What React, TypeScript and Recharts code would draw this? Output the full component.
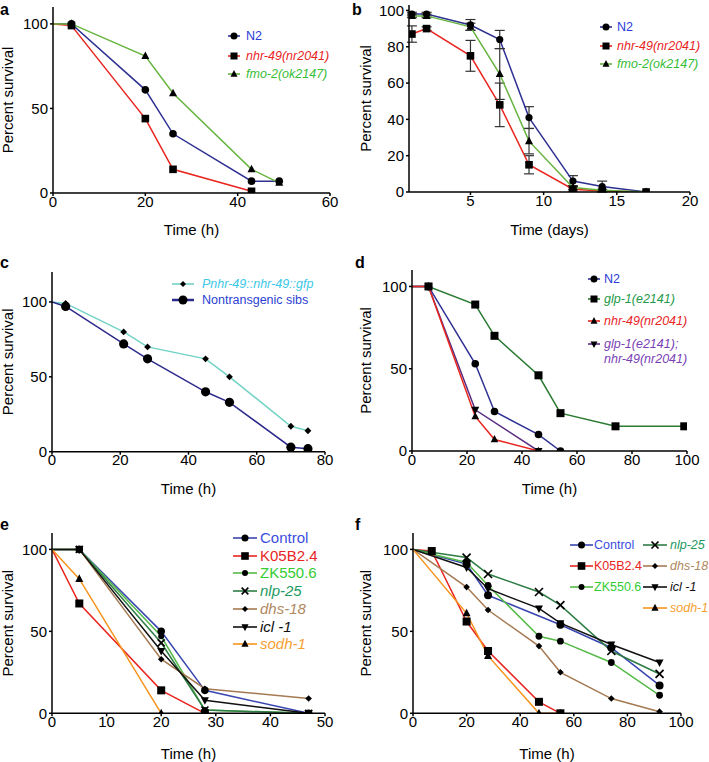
import React from "react";
import { LineChart, Line, XAxis, YAxis, ErrorBar } from "recharts";

const FONT = '"Liberation Sans", Arial, Helvetica, sans-serif';

/* ── data: panel a ─────────────────────────────── */
const aTimeN2 = [0, 4, 20, 26, 43, 49];
const aN2 = [100, 100, 61, 35, 7, 7];
const aTimeNhr = [0, 4, 20, 26, 43];
const aNhr = [100, 99, 44, 14, 1];
const aFmo = [100, 100, 81, 59, 14, 6];

/* ── data: panel b ─────────────────────────────── */
const bDays = [1, 2, 5, 7, 9, 12, 14, 17];
const bN2 = [98, 98, 92, 84, 41, 6, 3, 0];
const bN2Err = [1, 1, 3, 5, 6, 3, 3, 0];
const bNhr = [87, 90, 75, 48, 15, 1.5, 0.5, 0];
const bNhrErr = [4.5, 1, 8.5, 12, 5, 1, 0.5, 0];
const bFmo = [97, 97, 91, 65, 28, 2.5, 1, 0];
const bFmoErr = [1, 1, 2, 14, 7, 1, 0.5, 0];

/* ── data: panel c ─────────────────────────────── */
const cTimes = [0, 4, 21, 28, 45, 52, 70, 75];
const cGfp = [100, 99, 80, 70, 62, 50, 17, 14];
const cSibs = [100, 97, 72, 62, 40, 33, 3, 2];

/* ── data: panel d ─────────────────────────────── */
const dTimeN2 = [0, 6, 23, 30, 46, 54];
const dN2 = [100, 100, 53, 24, 10, 0];
const dTimeGlp = [0, 6, 23, 30, 46, 54, 74, 99];
const dGlp = [100, 100, 89, 70, 46, 23, 15, 15];
const dTimeNhr = [0, 6, 23, 30, 46];
const dNhr = [100, 100, 21, 7, 0];
const dTimeDouble = [0, 6, 23, 46];
const dDouble = [100, 100, 25, 0];

/* ── data: panel e ─────────────────────────────── */
const eTimes = [0, 5, 20, 28, 47];
const eControl = [100, 100, 50, 14, 0];
const eTimeK05 = [0, 5, 20, 28];
const eK05 = [100, 67, 14, 0];
const eZK = [100, 100, 47, 2, 0];
const eNlp = [100, 100, 43, 2, 0];
const eDhs = [100, 100, 33, 15, 9];
const eIcl = [100, 100, 38, 8, 0];
const eTimeSodh = [0, 5, 20];
const eSodh = [100, 82, 0];

/* ── data: panel f ─────────────────────────────── */
const fTimes = [0, 20, 28, 47, 55, 74, 92];
const fTimeControl = [0, 20, 28, 55, 74, 92];
const fControl = [100, 91, 72, 54, 40, 17];
const fTimeK05 = [0, 7, 20, 28, 47, 55];
const fK05 = [100, 99, 56, 38, 7, 0];
const fZK = [100, 92, 78, 47, 44, 31, 11];
const fNlp = [100, 95, 85, 74, 66, 38, 24];
const fDhs = [100, 77, 63, 41, 25, 9, 1];
const fIcl = [100, 89, 76, 64, 55, 42, 31];
const fTimeSodh = [0, 20, 28, 47, 55];
const fSodh = [100, 61, 35, 0, 0];

/* ── colours ───────────────────────────────────── */
const C = {
  blue: "#2e3192",
  blueText: "#2a3bd8",
  red: "#e8251f",
  green: "#66b43f",
  greenText: "#36bd36",
  cyan: "#72d3c5",
  cyanText: "#3cc8e8",
  navy: "#2d2a8c",
  dkGreen: "#2a7a32",
  dkGreenText: "#1e9a48",
  purple: "#5a2d82",
  purpleText: "#7a3fb5",
  ctrl: "#3a46b0",
  ctrlText: "#3c4ee0",
  zk: "#55b947",
  zkText: "#33cc33",
  nlp: "#2f7d45",
  nlpText: "#1e9960",
  dhs: "#a57a52",
  dhsText: "#b08860",
  orange: "#f7941d",
  orangeText: "#f5a030",
};

type ShapeKind = "circle" | "square" | "tri" | "tridown" | "diamond" | "cross";

interface Series {
  name: string;
  times: number[];
  values: number[];
  errs?: number[];
  color: string;
  shape: ShapeKind;
  size: number;
}

const zip = (t: number[], v: number[], e?: number[]) =>
  t.map((x, i) => ({ t: x, v: v[i], e: e ? e[i] : 0 }));

function Shape({ shape, x, y, s }: { shape: ShapeKind; x: number; y: number; s: number }) {
  switch (shape) {
    case "circle":
      return <circle cx={x} cy={y} r={s} fill="#000" />;
    case "square":
      return <rect x={x - s} y={y - s} width={2 * s} height={2 * s} fill="#000" />;
    case "tri":
      return (
        <polygon
          points={`${x},${y - s * 1.15} ${x - s},${y + s * 0.75} ${x + s},${y + s * 0.75}`}
          fill="#000"
        />
      );
    case "tridown":
      return (
        <polygon
          points={`${x},${y + s * 1.15} ${x - s},${y - s * 0.75} ${x + s},${y - s * 0.75}`}
          fill="#000"
        />
      );
    case "diamond":
      return (
        <polygon points={`${x},${y - s} ${x + s},${y} ${x},${y + s} ${x - s},${y}`} fill="#000" />
      );
    case "cross":
      return (
        <g stroke="#000" strokeWidth={1.7}>
          <line x1={x - s} y1={y - s} x2={x + s} y2={y + s} />
          <line x1={x - s} y1={y + s} x2={x + s} y2={y - s} />
        </g>
      );
  }
  return null;
}

// markers everywhere except at t = 0, where the curves start without a symbol
const mkDot = (shape: ShapeKind, size: number) => (p: any) => {
  const { cx, cy, payload, index } = p;
  if (cx == null || cy == null || payload.t === 0) return <g key={`d${index}`} />;
  return (
    <g key={`d${index}`}>
      <Shape shape={shape} x={cx} y={cy} s={size} />
    </g>
  );
};

interface PanelProps {
  left: number;
  top: number;
  width: number;
  height: number;
  yw: number;
  mt: number;
  mr: number;
  xh: number;
  mb: number;
  xDomain: [number, number];
  xTicks: number[];
  yDomain: [number, number];
  yTicks: number[];
  xTitle: string;
  xTitleOff: number;
  yTitleOff: number;
  series: Series[];
}

function Panel(p: PanelProps) {
  const tick = { fill: "#000", fontSize: 15, fontFamily: FONT };
  return (
    <div style={{ position: "absolute", left: p.left, top: p.top }}>
      <LineChart
        width={p.width}
        height={p.height}
        margin={{ top: p.mt, right: p.mr, left: 0, bottom: p.mb }}
      >
        <XAxis
          type="number"
          dataKey="t"
          domain={p.xDomain}
          ticks={p.xTicks}
          interval={0}
          allowDataOverflow
          height={p.xh}
          stroke="#000"
          strokeWidth={1.5}
          tickSize={3}
          tickMargin={0}
          tick={tick}
          label={{
            value: p.xTitle,
            position: "insideBottom",
            offset: p.xTitleOff,
            fill: "#000",
            fontSize: 15,
            fontFamily: FONT,
            fontWeight: 400,
            style: { fontWeight: 400, stroke: "none" },
          }}
        />
        <YAxis
          type="number"
          domain={p.yDomain}
          ticks={p.yTicks}
          interval={0}
          allowDataOverflow
          width={p.yw}
          stroke="#000"
          strokeWidth={1.5}
          tickSize={3}
          tickMargin={2}
          tick={tick}
          label={{
            value: "Percent survival",
            angle: -90,
            position: "insideLeft",
            offset: p.yTitleOff,
            fill: "#000",
            fontSize: 15,
            fontFamily: FONT,
            fontWeight: 400,
            textAnchor: "middle",
            style: { textAnchor: "middle", fontWeight: 400, stroke: "none" },
          }}
        />
        {p.series.map((s) => (
          <Line
            key={s.name}
            name={s.name}
            data={zip(s.times, s.values, s.errs)}
            dataKey="v"
            type="linear"
            stroke={s.color}
            strokeWidth={1.5}
            dot={mkDot(s.shape, s.size)}
            activeDot={false}
            isAnimationActive={false}
          >
            {s.errs && (
              <ErrorBar
                dataKey="e"
                direction="y"
                width={5}
                stroke="#333"
                strokeWidth={1.2}
                isAnimationActive={false}
              />
            )}
          </Line>
        ))}
      </LineChart>
    </div>
  );
}

interface LegItem {
  label: string;
  line: string;
  text: string;
  shape: ShapeKind;
  size: number;
  italic?: boolean;
  x: number;
  y: number;
  lineW: number;
  gap: number;
  font: number;
  lw?: number;
}

function LegendRow(it: LegItem) {
  return (
    <div
      style={{
        position: "absolute",
        left: it.x,
        top: it.y - 9,
        height: 18,
        display: "flex",
        alignItems: "center",
        whiteSpace: "nowrap",
        fontFamily: FONT,
      }}
    >
      <svg width={it.lineW} height={12} style={{ display: "block" }}>
        <line x1={0} y1={6} x2={it.lineW} y2={6} stroke={it.line} strokeWidth={it.lw ?? 1.6} />
        <Shape shape={it.shape} x={it.lineW / 2} y={6} s={it.size} />
      </svg>
      <span
        style={{
          marginLeft: it.gap,
          color: it.text,
          fontSize: it.font,
          fontStyle: it.italic ? "italic" : "normal",
          lineHeight: "18px",
        }}
      >
        {it.label}
      </span>
    </div>
  );
}

function PanelLetter({ ch, left, top }: { ch: string; left: number; top: number }) {
  return (
    <div
      style={{
        position: "absolute",
        left,
        top,
        fontFamily: FONT,
        fontWeight: "bold",
        fontSize: 16,
        lineHeight: "17px",
      }}
    >
      {ch}
    </div>
  );
}

const seriesA: Series[] = [
  { name: "N2", times: aTimeN2, values: aN2, color: C.blue, shape: "circle", size: 3.8 },
  { name: "nhr-49", times: aTimeNhr, values: aNhr, color: C.red, shape: "square", size: 3.8 },
  { name: "fmo-2", times: aTimeN2, values: aFmo, color: C.green, shape: "tri", size: 4 },
];

const seriesB: Series[] = [
  { name: "N2", times: bDays, values: bN2, errs: bN2Err, color: C.blue, shape: "circle", size: 3.6 },
  { name: "nhr-49", times: bDays, values: bNhr, errs: bNhrErr, color: C.red, shape: "square", size: 3.8 },
  { name: "fmo-2", times: bDays, values: bFmo, errs: bFmoErr, color: C.green, shape: "tri", size: 4 },
];

const seriesC: Series[] = [
  { name: "gfp", times: cTimes, values: cGfp, color: C.cyan, shape: "diamond", size: 3.4 },
  { name: "sibs", times: cTimes, values: cSibs, color: C.navy, shape: "circle", size: 4.6 },
];

const seriesD: Series[] = [
  { name: "N2", times: dTimeN2, values: dN2, color: C.blue, shape: "circle", size: 3.8 },
  { name: "glp-1", times: dTimeGlp, values: dGlp, color: C.dkGreen, shape: "square", size: 4 },
  { name: "double", times: dTimeDouble, values: dDouble, color: C.purple, shape: "tridown", size: 4 },
  { name: "nhr-49", times: dTimeNhr, values: dNhr, color: C.red, shape: "tri", size: 3.8 },
];

const seriesE: Series[] = [
  { name: "Control", times: eTimes, values: eControl, color: C.ctrl, shape: "circle", size: 3.8 },
  { name: "K05B2.4", times: eTimeK05, values: eK05, color: C.red, shape: "square", size: 4 },
  { name: "ZK550.6", times: eTimes, values: eZK, color: C.zk, shape: "circle", size: 3 },
  { name: "nlp-25", times: eTimes, values: eNlp, color: C.nlp, shape: "cross", size: 3.5 },
  { name: "dhs-18", times: eTimes, values: eDhs, color: C.dhs, shape: "diamond", size: 3.3 },
  { name: "icl-1", times: eTimes, values: eIcl, color: "#111", shape: "tridown", size: 4 },
  { name: "sodh-1", times: eTimeSodh, values: eSodh, color: C.orange, shape: "tri", size: 4 },
];

const seriesF: Series[] = [
  { name: "Control", times: fTimeControl, values: fControl, color: C.ctrl, shape: "circle", size: 4 },
  { name: "K05B2.4", times: fTimeK05, values: fK05, color: C.red, shape: "square", size: 4 },
  { name: "ZK550.6", times: fTimes, values: fZK, color: C.zk, shape: "circle", size: 3.4 },
  { name: "nlp-25", times: fTimes, values: fNlp, color: C.nlp, shape: "cross", size: 4 },
  { name: "dhs-18", times: fTimes, values: fDhs, color: C.dhs, shape: "diamond", size: 3.3 },
  { name: "icl-1", times: fTimes, values: fIcl, color: "#111", shape: "tridown", size: 4 },
  { name: "sodh-1", times: fTimeSodh, values: fSodh, color: C.orange, shape: "tri", size: 4 },
];

const legA: LegItem[] = [
  { label: "N2", line: C.blue, text: C.blueText, shape: "circle", size: 3.5, x: 228, y: 36, lineW: 12, gap: 6, font: 12.5 },
  { label: "nhr-49(nr2041)", line: C.red, text: C.red, shape: "square", size: 3.5, italic: true, x: 228, y: 56, lineW: 12, gap: 6, font: 12.5 },
  { label: "fmo-2(ok2147)", line: C.green, text: C.greenText, shape: "tri", size: 3.5, italic: true, x: 228, y: 74, lineW: 12, gap: 6, font: 12.5 },
];

const legB: LegItem[] = [
  { label: "N2", line: C.blue, text: C.blueText, shape: "circle", size: 3.5, x: 600, y: 27, lineW: 12, gap: 5, font: 12.5 },
  { label: "nhr-49(nr2041)", line: C.red, text: C.red, shape: "square", size: 3.5, italic: true, x: 600, y: 46, lineW: 12, gap: 5, font: 12.5 },
  { label: "fmo-2(ok2147)", line: C.green, text: C.greenText, shape: "tri", size: 3.5, italic: true, x: 600, y: 64, lineW: 12, gap: 5, font: 12.5 },
];

const legC: LegItem[] = [
  { label: "Pnhr-49::nhr-49::gfp", line: C.cyan, text: C.cyanText, shape: "diamond", size: 3, italic: true, x: 172, y: 284, lineW: 22, gap: 8, font: 12.5 },
  { label: "Nontransgenic sibs", line: C.navy, text: "#2b3fd4", shape: "circle", size: 4.5, x: 172, y: 300, lineW: 22, gap: 8, font: 12.5, lw: 2.5 },
];

const legD: LegItem[] = [
  { label: "N2", line: C.blue, text: C.blueText, shape: "circle", size: 3.5, x: 588, y: 279, lineW: 12, gap: 4, font: 12.5 },
  { label: "glp-1(e2141)", line: C.dkGreen, text: C.dkGreenText, shape: "square", size: 3.5, italic: true, x: 588, y: 299, lineW: 12, gap: 4, font: 12.5 },
  { label: "nhr-49(nr2041)", line: C.red, text: C.red, shape: "tri", size: 3.5, italic: true, x: 588, y: 321, lineW: 12, gap: 4, font: 12.5 },
  { label: "glp-1(e2141);", line: C.purple, text: C.purpleText, shape: "tridown", size: 3.5, italic: true, x: 588, y: 344, lineW: 12, gap: 4, font: 12.5 },
];

const legE: LegItem[] = [
  { label: "Control", line: C.ctrl, text: C.ctrlText, shape: "circle", size: 3.5, x: 233, y: 538, lineW: 24, gap: 3, font: 15 },
  { label: "K05B2.4", line: C.red, text: C.red, shape: "square", size: 3.8, x: 233, y: 556, lineW: 24, gap: 3, font: 15 },
  { label: "ZK550.6", line: C.zk, text: C.zkText, shape: "circle", size: 3, x: 233, y: 573, lineW: 24, gap: 3, font: 15 },
  { label: "nlp-25", line: C.nlp, text: C.nlpText, shape: "cross", size: 3.3, italic: true, x: 233, y: 591, lineW: 24, gap: 3, font: 15 },
  { label: "dhs-18", line: C.dhs, text: C.dhsText, shape: "diamond", size: 3, italic: true, x: 233, y: 609, lineW: 24, gap: 3, font: 15 },
  { label: "icl -1", line: "#111", text: "#111", shape: "tridown", size: 3.6, italic: true, x: 233, y: 627, lineW: 24, gap: 3, font: 15 },
  { label: "sodh-1", line: C.orange, text: C.orangeText, shape: "tri", size: 3.6, italic: true, x: 233, y: 644, lineW: 24, gap: 3, font: 15 },
];

const legF: LegItem[] = [
  { label: "Control", line: C.ctrl, text: C.ctrlText, shape: "circle", size: 3.5, x: 570, y: 545, lineW: 23, gap: 1, font: 12.5 },
  { label: "K05B2.4", line: C.red, text: C.red, shape: "square", size: 3.8, x: 570, y: 566, lineW: 23, gap: 1, font: 12.5 },
  { label: "ZK550.6", line: C.zk, text: C.zkText, shape: "circle", size: 3, x: 570, y: 587, lineW: 23, gap: 1, font: 12.5 },
  { label: "nlp-25", line: C.nlp, text: C.nlpText, shape: "cross", size: 3.5, italic: true, x: 643, y: 545, lineW: 24, gap: 3, font: 12.5 },
  { label: "dhs-18", line: C.dhs, text: C.dhsText, shape: "diamond", size: 3, italic: true, x: 643, y: 566, lineW: 24, gap: 3, font: 12.5 },
  { label: "icl -1", line: "#111", text: "#111", shape: "tridown", size: 3.6, italic: true, x: 643, y: 587, lineW: 24, gap: 3, font: 12.5 },
  { label: "sodh-1", line: C.orange, text: C.orangeText, shape: "tri", size: 3.6, italic: true, x: 643, y: 608, lineW: 24, gap: 3, font: 12.5 },
];

export default function App() {
  return (
    <div
      style={{
        position: "absolute",
        left: 0,
        top: 0,
        width: 709,
        height: 762,
        background: "#fff",
        overflow: "hidden",
        fontFamily: FONT,
      }}
    >
      <Panel
        left={0} top={0} width={350} height={240}
        yw={53} mt={7} mr={20} xh={45} mb={2}
        xDomain={[0, 60]} xTicks={[0, 20, 40, 60]}
        yDomain={[0, 110]} yTicks={[0, 50, 100]}
        xTitle="Time (h)" xTitleOff={3} yTitleOff={8}
        series={seriesA}
      />
      <Panel
        left={350} top={0} width={359} height={240}
        yw={59} mt={5} mr={19} xh={45} mb={3}
        xDomain={[0.8, 20]} xTicks={[5, 10, 15, 20]}
        yDomain={[0, 103]} yTicks={[0, 20, 40, 60, 80, 100]}
        xTitle="Time (days)" xTitleOff={2} yTitleOff={16}
        series={seriesB}
      />
      <Panel
        left={0} top={240} width={350} height={260}
        yw={52} mt={32} mr={25} xh={46} mb={2.3}
        xDomain={[0, 80]} xTicks={[0, 20, 40, 60, 80]}
        yDomain={[0, 120]} yTicks={[0, 50, 100]}
        xTitle="Time (h)" xTitleOff={3.7} yTitleOff={8}
        series={seriesC}
      />
      <Panel
        left={350} top={240} width={359} height={260}
        yw={62} mt={30} mr={22} xh={46} mb={3}
        xDomain={[0, 100]} xTicks={[0, 20, 40, 60, 80, 100]}
        yDomain={[0, 110]} yTicks={[0, 50, 100]}
        xTitle="Time (h)" xTitleOff={3} yTitleOff={16}
        series={seriesD}
      />
      <Panel
        left={0} top={500} width={350} height={262}
        yw={52} mt={33} mr={25} xh={46} mb={2.7}
        xDomain={[0, 50]} xTicks={[0, 10, 20, 30, 40, 50]}
        yDomain={[0, 110]} yTicks={[0, 50, 100]}
        xTitle="Time (h)" xTitleOff={0.3} yTitleOff={8}
        series={seriesE}
      />
      <Panel
        left={350} top={500} width={359} height={262}
        yw={63} mt={33} mr={28} xh={46} mb={2.7}
        xDomain={[0, 100]} xTicks={[0, 20, 40, 60, 80, 100]}
        yDomain={[0, 110]} yTicks={[0, 50, 100]}
        xTitle="Time (h)" xTitleOff={0.3} yTitleOff={16}
        series={seriesF}
      />

      {[...legA, ...legB, ...legC, ...legD, ...legE, ...legF].map((it, i) => (
        <LegendRow key={i} {...it} />
      ))}
      <div
        style={{
          position: "absolute",
          left: 604,
          top: 350,
          fontFamily: FONT,
          fontSize: 12.5,
          fontStyle: "italic",
          color: C.purpleText,
          lineHeight: "18px",
          whiteSpace: "nowrap",
        }}
      >
        nhr-49(nr2041)
      </div>

      <PanelLetter ch="a" left={0} top={1} />
      <PanelLetter ch="b" left={352} top={1} />
      <PanelLetter ch="c" left={0} top={254} />
      <PanelLetter ch="d" left={355} top={254} />
      <PanelLetter ch="e" left={0} top={516} />
      <PanelLetter ch="f" left={355} top={516} />
    </div>
  );
}
